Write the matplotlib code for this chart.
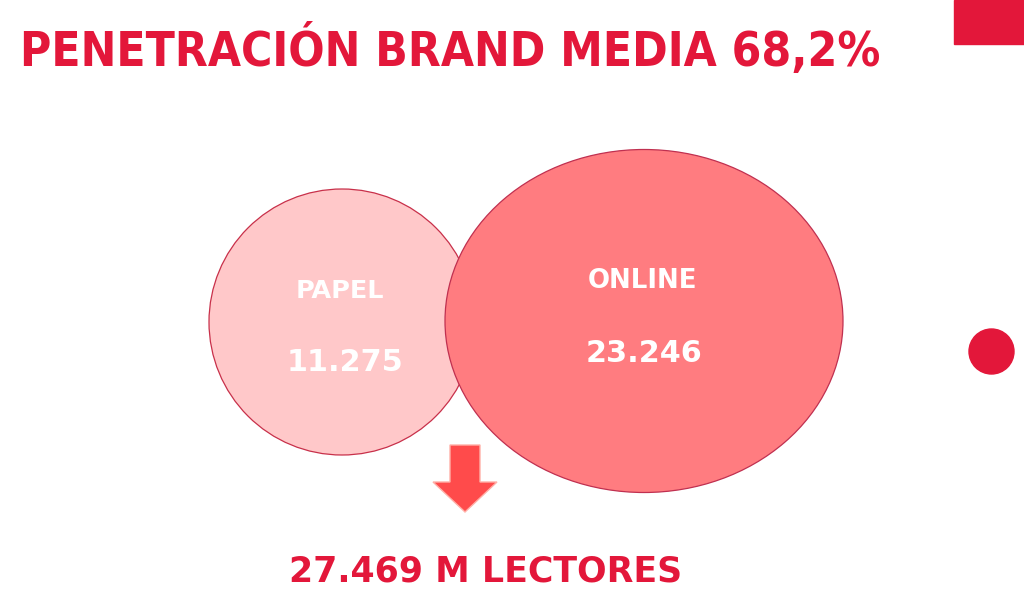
import matplotlib
matplotlib.use("Agg")
import matplotlib.pyplot as plt
from matplotlib.patches import Ellipse, Rectangle, Circle, Polygon

# ---- data ----
title = "PENETRACIÓN BRAND MEDIA 68,2%"
categories = ["PAPEL", "ONLINE"]
values_text = ["11.275", "23.246"]
total_text = "27.469 M LECTORES"

# ---- layout / style ----
W, H = 1024, 602
fig = plt.figure(figsize=(W / 100, H / 100), dpi=100)
ax = fig.add_axes([0, 0, 1, 1])
ax.set_xlim(0, W)
ax.set_ylim(H, 0)
ax.axis("off")

RED = "#E3173A"
fig.canvas.draw()
renderer = fig.canvas.get_renderer()


def fit_text(s, x0, x1, yb, color, family="DejaVu Sans", stretch="normal", z=5):
    t = ax.text((x0 + x1) / 2, yb, s, ha="center", va="baseline",
                fontsize=20, fontweight="bold", color=color, family=family,
                fontstretch=stretch, zorder=z)
    bb = t.get_window_extent(renderer)
    t.set_fontsize(20 * (x1 - x0) / bb.width)
    return t


# decorations
ax.add_patch(Rectangle((954, 0), 70, 44, color=RED, zorder=1))
ax.add_patch(Circle((991.5, 351.5), 22.5, color=RED, zorder=1))

# circles
ax.add_patch(Ellipse((342, 322), 266, 266, facecolor="#FFC8C9",
                     edgecolor="#C8304A", lw=0.9, zorder=2))
ax.add_patch(Ellipse((644, 321), 398, 343, facecolor="#FF7C80",
                     edgecolor="#C03050", lw=0.9, zorder=3))

# arrow
arrow = [(450, 445), (480, 445), (480, 482), (497, 482), (465, 512),
         (433, 482), (450, 482)]
ax.add_patch(Polygon(arrow, closed=True, facecolor="#FF4B4B",
                     edgecolor="#FFB0A8", lw=1.0, zorder=2))

# texts
fit_text(title, 20, 880, 66, RED, stretch="condensed")
fit_text(categories[0], 296, 384, 298, "white")
fit_text(values_text[0], 287, 404, 371, "white")
fit_text(categories[1], 588, 697, 288, "white")
fit_text(values_text[1], 585, 702, 362, "white")
fit_text(total_text, 289, 682, 582, RED)

fig.savefig("out.png", dpi=100)
